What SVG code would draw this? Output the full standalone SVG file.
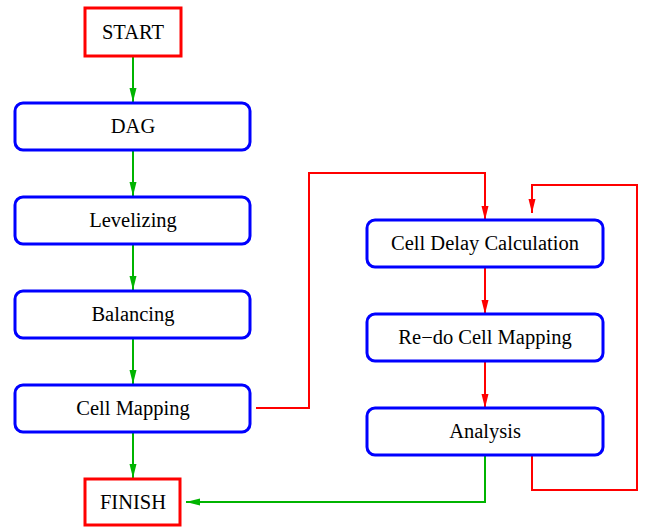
<svg xmlns="http://www.w3.org/2000/svg" width="645" height="527" viewBox="0 0 645 527">
<style>
.term{fill:#fff;stroke:#ff0000;stroke-width:3}
.proc{fill:#fff;stroke:#0000ff;stroke-width:3}
.lbl{font-family:"Liberation Serif","Times New Roman",serif;font-size:20.5px;fill:#000;text-anchor:middle}
.g{fill:none;stroke:#00b400;stroke-width:2}
.r{fill:none;stroke:#ff0000;stroke-width:2}
</style>
<defs>
<marker id="ag" markerUnits="userSpaceOnUse" markerWidth="14" markerHeight="10" viewBox="0 0 14 10" refX="14" refY="5" orient="auto"><path d="M0,1.5 L14,5 L0,8.5 Z" fill="#00b400"/></marker>
<marker id="ar" markerUnits="userSpaceOnUse" markerWidth="14" markerHeight="10" viewBox="0 0 14 10" refX="14" refY="5" orient="auto"><path d="M0,1.5 L14,5 L0,8.5 Z" fill="#ff0000"/></marker>
</defs>
<rect width="645" height="527" fill="#fff"/>
<g id="connectors">
<path class="g" d="M133,57 V102" marker-end="url(#ag)"/>
<path class="g" d="M133,150 V196" marker-end="url(#ag)"/>
<path class="g" d="M133,244 V290" marker-end="url(#ag)"/>
<path class="g" d="M133,338 V384" marker-end="url(#ag)"/>
<path class="g" d="M133,432 V478" marker-end="url(#ag)"/>
<path class="r" d="M256,408 H309 V173 H485 V220" marker-end="url(#ar)"/>
<path class="r" d="M485,267 V314" marker-end="url(#ar)"/>
<path class="r" d="M485,361 V408" marker-end="url(#ar)"/>
<path class="g" d="M485,456 V502 H186" marker-end="url(#ag)"/>
<path class="r" d="M532,456 V490 H637 V185 H532 V213" marker-end="url(#ar)"/>
</g>
<g id="start"><rect class="term" x="85" y="8" width="96" height="48"/><text class="lbl" x="133" y="39">START</text></g>
<g id="dag"><rect class="proc" x="15" y="103" width="235" height="47" rx="8"/><text class="lbl" x="133" y="133">DAG</text></g>
<g id="levelizing"><rect class="proc" x="15" y="197" width="235" height="47" rx="8"/><text class="lbl" x="133" y="227">Levelizing</text></g>
<g id="balancing"><rect class="proc" x="15" y="291" width="235" height="47" rx="8"/><text class="lbl" x="133" y="321">Balancing</text></g>
<g id="cellmapping"><rect class="proc" x="15" y="385" width="235" height="47" rx="8"/><text class="lbl" x="133" y="415">Cell Mapping</text></g>
<g id="finish"><rect class="term" x="85" y="479" width="95" height="46"/><text class="lbl" x="133" y="509">FINISH</text></g>
<g id="celldelay"><rect class="proc" x="367" y="220" width="236" height="47" rx="8"/><text class="lbl" x="485" y="250">Cell Delay Calculation</text></g>
<g id="redo"><rect class="proc" x="367" y="314" width="236" height="47" rx="8"/><text class="lbl" x="485" y="344">Re−do Cell Mapping</text></g>
<g id="analysis"><rect class="proc" x="367" y="408" width="236" height="47" rx="8"/><text class="lbl" x="485" y="438">Analysis</text></g>
</svg>
